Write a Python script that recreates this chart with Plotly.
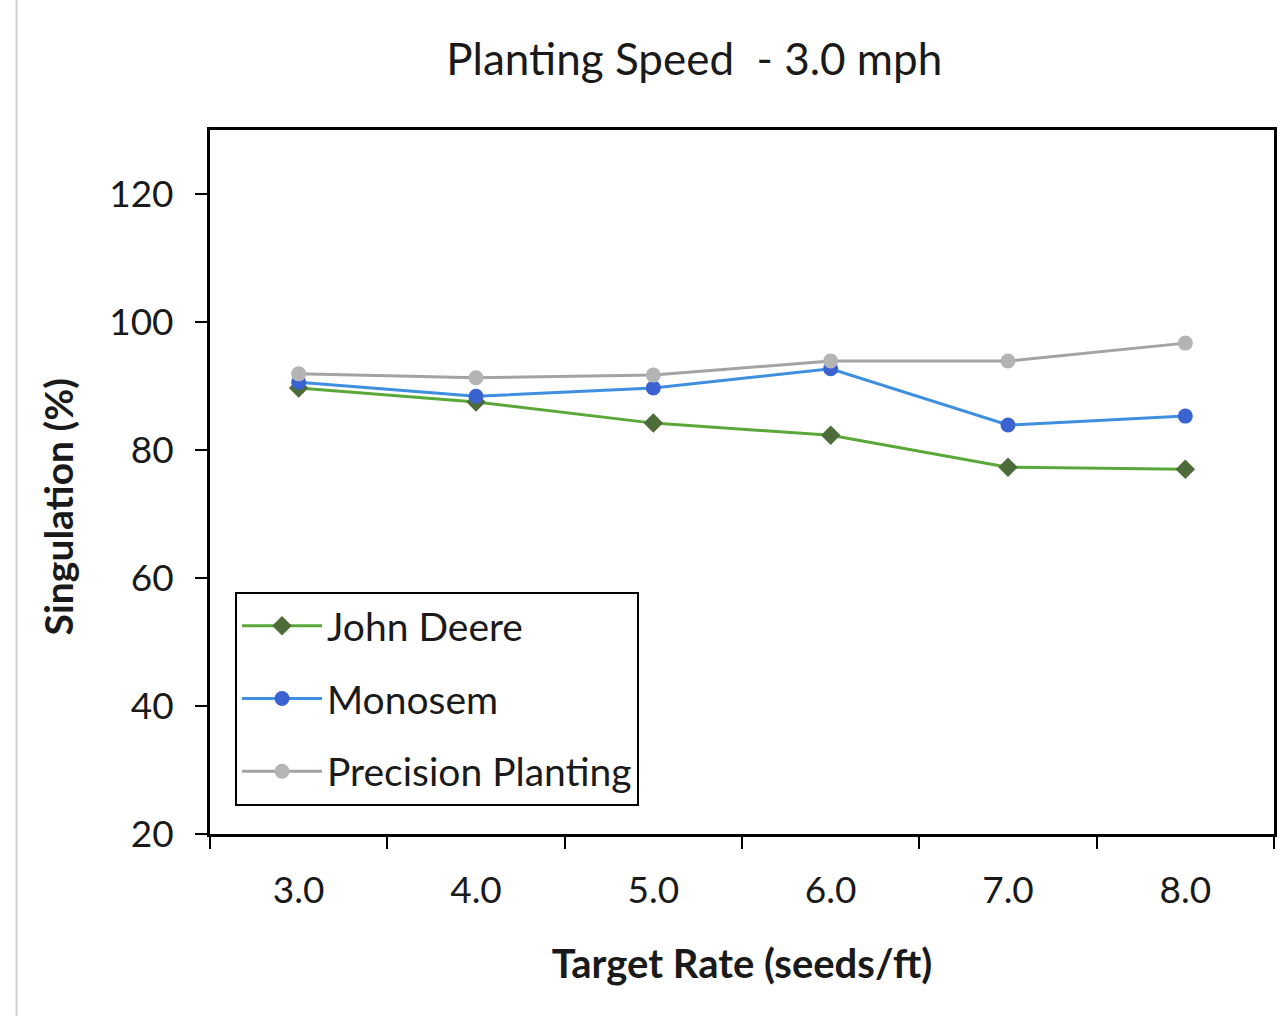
import plotly.graph_objects as go

categories = ["3.0", "4.0", "5.0", "6.0", "7.0", "8.0"]
john_deere = [89.7, 87.5, 84.2, 82.3, 77.3, 77.0]
monosem = [90.6, 88.4, 89.7, 92.7, 83.9, 85.3]
precision = [91.9, 91.3, 91.7, 93.9, 93.9, 96.7]
y_ticks = [20, 40, 60, 80, 100, 120]

FONT = "Lato"
TXT = "#1a1a1a"

fig = go.Figure()
fig.add_trace(go.Scatter(
    x=categories, y=john_deere, name="John Deere", mode="lines+markers",
    line=dict(color="#5aa83a", width=3),
    marker=dict(symbol="diamond", size=15, color="#4e6b3a"),
    legendgroup="a"))
fig.add_trace(go.Scatter(
    x=categories, y=monosem, name="Monosem", mode="lines+markers",
    line=dict(color="#3f8fe0", width=3),
    marker=dict(symbol="circle", size=15, color="#3a62d0"),
    legendgroup="b"))
fig.add_trace(go.Scatter(
    x=categories, y=precision, name="Precision Planting", mode="lines+markers",
    line=dict(color="#a3a3a3", width=3),
    marker=dict(symbol="circle", size=15, color="#b4b4b4"),
    legendgroup="c"))

fig.update_layout(
    width=1281, height=1016,
    margin=dict(l=210, r=4, t=130, b=182),
    paper_bgcolor="white", plot_bgcolor="white",
    font=dict(family=FONT, size=37, color=TXT),
    title=dict(text="Planting Speed  - 3.0 mph", x=0.542, xanchor="center",
               y=1 - 60 / 1016, yanchor="middle",
               font=dict(family=FONT, size=44, color=TXT)),
    showlegend=True,
    legend=dict(x=0.0235, y=(834 - 592) / 704, xanchor="left", yanchor="top",
                bgcolor="white", bordercolor="black", borderwidth=2,
                font=dict(family=FONT, size=39, color=TXT),
                tracegroupgap=19, traceorder="grouped", itemwidth=80),
    xaxis=dict(
        type="category", range=[-0.5, 5.5], tickson="boundaries",
        ticks="outside", ticklen=12, ticklabelstandoff=22,
        tickwidth=2, tickcolor="black", showline=True, linecolor="black",
        linewidth=3, mirror=True, showgrid=False, zeroline=False,
        tickfont=dict(family=FONT, size=37, color=TXT),
        title=dict(text="<b>Target Rate (seeds/ft)</b>", standoff=40,
                   font=dict(family=FONT, size=40, color=TXT)),
    ),
    yaxis=dict(
        range=[20, 130], tickvals=y_ticks, ticks="outside", ticklen=12,
        ticklabelstandoff=14,
        tickwidth=2, tickcolor="black", showline=True, linecolor="black",
        linewidth=3, mirror=True, showgrid=False, zeroline=False,
        tickfont=dict(family=FONT, size=37, color=TXT),
    ),
    annotations=[dict(
        text="<b>Singulation (%)</b>", textangle=-90, showarrow=False,
        xref="paper", yref="paper", x=(58 - 210) / 1067, y=(834 - 507) / 704,
        xanchor="center", yanchor="middle",
        font=dict(family=FONT, size=39, color=TXT))],
)

fig.add_shape(type="line", xref="paper", yref="paper",
              x0=(16 - 210) / 1067, x1=(16 - 210) / 1067,
              y0=-182 / 704, y1=1 + 130 / 704,
              line=dict(color="#cfcfcf", width=2))

fig.write_html("out.html")
